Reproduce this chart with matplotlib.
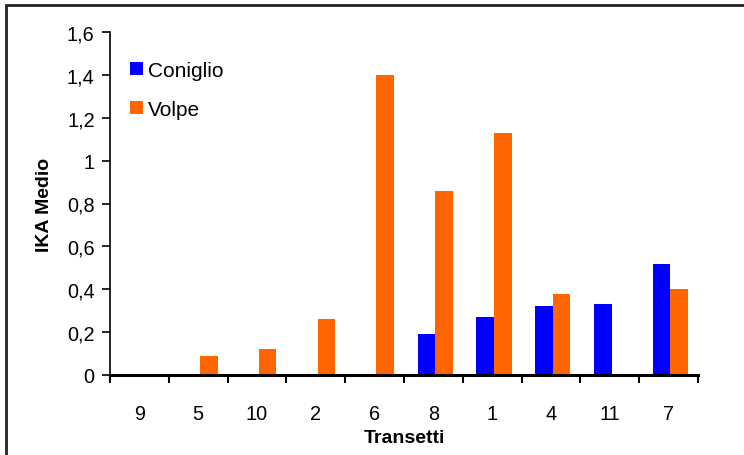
import matplotlib
matplotlib.use("Agg")
import matplotlib.pyplot as plt
import numpy as np
from matplotlib.patches import Rectangle

plt.rcParams['font.family'] = ['Liberation Sans', 'DejaVu Sans']

categories = ["9", "5", "10", "2", "6", "8", "1", "4", "11", "7"]
coniglio = [0, 0, 0, 0, 0, 0.19, 0.27, 0.32, 0.33, 0.52]
volpe = [0, 0.09, 0.12, 0.26, 1.40, 0.86, 1.13, 0.38, 0, 0.40]
yticks = [0, 0.2, 0.4, 0.6, 0.8, 1.0, 1.2, 1.4, 1.6]
ytick_labels = ["0", "0,2", "0,4", "0,6", "0,8", "1", "1,2", "1,4", "1,6"]

W, H = 744, 456
fig = plt.figure(figsize=(W/100, H/100), dpi=100)
ax = fig.add_axes([110/W, 1-376/H, (698-110)/W, (376-33)/H])

x = np.arange(len(categories))
bw = 0.3
blue = "#0000FF"
orange = "#FF6600"
ax.bar(x - bw/2 + 0.03, coniglio, width=bw, color=blue, label="Coniglio")
ax.bar(x + bw/2 + 0.03, volpe, width=bw, color=orange, label="Volpe")

fs = 14.3
ax.set_xlim(-0.5, len(categories) - 0.5)
ax.set_ylim(0, 1.6)
ax.set_yticks(yticks)
ax.set_yticklabels(ytick_labels, fontsize=fs)
ax.set_xticks(x)
ax.set_xticklabels(categories, fontsize=fs)
ax.set_xticks(np.arange(len(categories) + 1) - 0.5, minor=True)
ax.tick_params(axis='x', which='major', length=0, pad=21)
ax.tick_params(axis='x', which='minor', length=6, width=1.5, direction='out')
ax.tick_params(axis='y', length=6, width=1.2, direction='out', pad=5)
for s in ['top', 'right']:
    ax.spines[s].set_visible(False)
ax.spines['left'].set_linewidth(1.2)
ax.spines['bottom'].set_linewidth(2.2)

ax.set_ylabel("IKA Medio", fontsize=14, fontweight='bold', labelpad=10)
ax.set_xlabel("Transetti", fontsize=14, fontweight='bold', labelpad=4)

leg = ax.legend(loc='upper left', bbox_to_anchor=(0.02, 0.94), frameon=False,
                fontsize=15, handlelength=0.6, handleheight=0.6,
                handletextpad=0.25, labelspacing=0.95, borderaxespad=0)

# outer chart frame (clipped at right/bottom)
fig.patches.append(Rectangle((6/W, -0.05), 1.2, 1-6/H+0.05, transform=fig.transFigure,
                             fill=False, edgecolor="#222222", linewidth=2))

fig.savefig("out.png", dpi=100)
